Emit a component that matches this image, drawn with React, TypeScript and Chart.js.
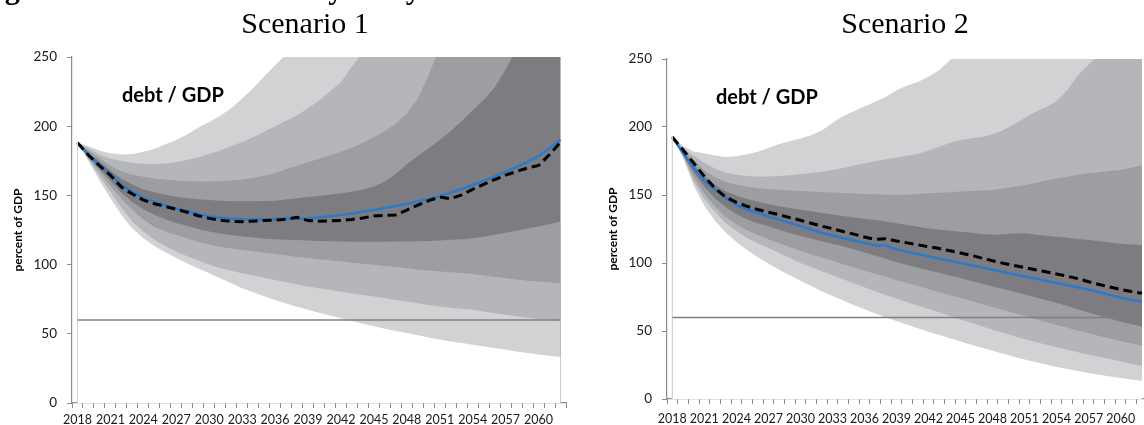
import React, { useEffect, useRef } from "react";
import { Chart, registerables } from "chart.js";

Chart.register(...registerables);

// ---------- data ----------
const YEARS = [
  "2018","2019","2020","2021","2022","2023","2024","2025","2026","2027",
  "2028","2029","2030","2031","2032","2033","2034","2035","2036","2037",
  "2038","2039","2040","2041","2042","2043","2044","2045","2046","2047",
  "2048","2049","2050","2051","2052","2053","2054","2055","2056","2057",
  "2058","2059","2060","2061","2062",
];
const TICK_YEARS = [
  "2018","2021","2024","2027","2030","2033","2036","2039","2042","2045",
  "2048","2051","2054","2057","2060",
];
const THRESHOLD = 60; // reference line (percent of GDP)

// Scenario 1
const S1_MEDIAN = [188, 179.5, 172, 165.5, 157.5, 152.5, 148, 145.3, 142.8, 140.6, 138.5, 136.5, 134.7, 133.8, 133.2, 132.8, 132.6, 132.5, 132.7, 132.9, 133.1, 133.4, 134, 134.9, 135.8, 136.9, 138.2, 139.4, 140.9, 142.3, 143.8, 145.7, 147.5, 149.5, 151.9, 154.6, 157.5, 160.4, 163.7, 167, 170.6, 174.3, 178.4, 184.1, 190.2];
const S1_DASHED = [188, 179, 171.5, 164.5, 156, 151, 146.6, 144, 142, 140, 137.8, 135.3, 133.4, 132.1, 131.3, 131, 131.4, 131.9, 132.2, 132.8, 134.2, 131.8, 131.4, 131.6, 131.8, 132.6, 133.7, 135.2, 135.5, 135.9, 139.4, 143, 146.2, 148.8, 147.6, 150.4, 154.4, 158, 161.4, 164.6, 167.3, 169.8, 171.6, 179.5, 188.6];
const S1_U4 = [188, 185.5, 182.5, 180.5, 179.5, 180, 181.5, 183.5, 187, 190, 194, 199, 203, 207.5, 213, 220, 227.5, 236, 244, 252, 259, 267, 275, 282, 290, 297, 306, 313, 321, 329, 336, 345, 352, 360, 369, 376, 384, 393, 400, 408, 417, 424, 432, 441, 448];
const S1_U3 = [188, 184, 179.5, 176.5, 175, 173.5, 172.8, 172.6, 173, 174, 175.5, 177.5, 180, 182.5, 185.5, 188.5, 192, 196, 200, 204, 208, 213, 218.5, 225, 232, 243, 254, 262, 269, 277, 284, 292, 301, 309, 318, 327, 335, 344, 352, 361, 369, 378, 387, 395, 404];
const S1_U2 = [188, 182.5, 177, 171.5, 167.3, 165, 163.5, 162.2, 161.3, 160.7, 160.3, 160.1, 160.1, 160.3, 160.8, 161.5, 162.6, 164.2, 166.2, 169, 171.5, 174, 176.5, 179, 181.5, 184.5, 188, 192, 196.5, 202, 209, 220, 237, 257, 271, 285, 299, 313, 327, 341, 355, 369, 383, 397, 411];
const S1_U1 = [188, 181, 174.5, 168, 162, 157.8, 154.5, 152.2, 150.5, 149, 148, 147.2, 146.6, 146.1, 145.8, 145.7, 145.7, 145.9, 146.2, 147, 148, 148.8, 149.6, 150.5, 151.5, 152.7, 154.2, 156.5, 160, 165.5, 172.5, 178.5, 184, 190, 196.5, 203.5, 211.5, 219, 228, 241, 256, 268, 281, 293, 306];
const S1_L1 = [188, 178, 169, 160.5, 152, 145, 140, 136, 132.7, 130, 127.8, 125.7, 123.9, 122.5, 121.3, 120.3, 119.5, 118.9, 118.4, 118, 117.7, 117.4, 117.1, 116.9, 116.7, 116.6, 116.5, 116.6, 116.6, 116.7, 116.7, 116.9, 117.1, 117.4, 117.9, 118.4, 119.1, 120.2, 121.5, 123, 124.5, 126, 127.5, 129.4, 131.2];
const S1_L2 = [188, 177, 167, 157, 147.5, 139.5, 132.5, 127.2, 124, 121.4, 118.9, 116.4, 114.3, 112.9, 111.6, 110.6, 109.7, 108.6, 107.7, 106.7, 105.5, 104.7, 103.8, 103.1, 102.2, 101.3, 100.7, 99.9, 99, 98.3, 97.4, 96.5, 95.8, 95.1, 94.4, 93.9, 93.2, 92.2, 91.2, 90.1, 89.3, 88.4, 87.8, 87.1, 86.6];
const S1_L3 = [188, 176, 164, 152.5, 141, 131, 124, 118, 113.5, 109.5, 106, 102.9, 99.9, 97.6, 95.6, 93.8, 92.1, 90.5, 88.9, 87.2, 85.7, 84.1, 82.9, 81.6, 80.4, 79.2, 78, 76.9, 75.8, 74.5, 73.3, 72.1, 70.8, 69.7, 68.9, 68.1, 67.3, 66.1, 64.9, 63.8, 62.6, 61.6, 60.7, 60.1, 59.6];
const S1_L4 = [188, 175, 161, 148, 136, 126, 119, 113.5, 109, 104.7, 100.8, 97.2, 93.8, 90.1, 86.5, 83, 80, 77.2, 74.5, 71.9, 69.6, 67.3, 65.2, 63.2, 61.3, 59.2, 57.2, 55.4, 53.7, 52.1, 50.5, 48.9, 47.3, 45.8, 44.5, 43.3, 42.1, 40.9, 39.7, 38.5, 37.3, 36.2, 35, 34.1, 33.3];

// Scenario 2
const S2_MEDIAN = [192.6, 181, 170, 160.5, 154, 148, 142.5, 139.3, 136.8, 134.3, 131.9, 129.5, 127.1, 124.6, 122.2, 120.2, 118.4, 116.6, 114.8, 113, 112.8, 110, 108.3, 106.6, 104.9, 103.2, 101.6, 100, 98.3, 96.7, 95.1, 93.4, 91.8, 90.2, 88.6, 87, 85.3, 83.7, 82.1, 80.4, 78.5, 76.5, 74.4, 72.8, 71.7];
const S2_DASHED = [192.6, 183.3, 173.5, 163.7, 154.8, 148.5, 144.6, 141.7, 139.3, 137.3, 135.5, 133.4, 131.4, 129.2, 127.1, 125.1, 123.2, 121.2, 119.1, 117.4, 117.9, 116.2, 114.8, 113.4, 112, 110.6, 109, 107.4, 105.6, 103.6, 101.6, 99.8, 98.2, 96.7, 95.1, 93.5, 91.9, 90.3, 88.5, 86.2, 84.2, 82.3, 80.6, 79, 77.8];
const S2_U4 = [192.6, 186, 182, 180.5, 179, 178, 178.5, 180, 181.8, 184.5, 187.5, 189.5, 191.5, 194, 197.5, 203, 208, 211.5, 215, 218.5, 222, 227, 230.5, 233, 237, 242, 249, 256, 263, 271, 278, 286, 293, 301, 308, 316, 323, 331, 338, 346, 353, 361, 368, 376, 383];
const S2_U3 = [192.6, 184.5, 179, 173.5, 169.5, 166.5, 164.8, 163.9, 163.5, 163.6, 164, 164.6, 165.3, 166.1, 167.1, 168.3, 169.8, 171.5, 173.4, 175, 176.3, 177.6, 178.8, 180.2, 182.6, 185.5, 188.3, 190.4, 191.8, 192.7, 194.6, 197.6, 202, 206.4, 211, 214.5, 219, 227, 238, 246, 253, 260, 266, 272, 279];
const S2_U2 = [192.6, 183.5, 175.5, 168, 163, 159.8, 157.6, 156.1, 155.1, 154.4, 153.8, 153.4, 153, 152.6, 152.2, 151.8, 151.4, 151.1, 150.8, 150.5, 150.3, 150.2, 150.4, 150.8, 151.2, 151.6, 152, 152.5, 152.9, 153.3, 153.7, 154.7, 156, 157.3, 158.9, 160.6, 162.2, 163.5, 164.8, 166, 166.8, 167.6, 168.4, 170, 172];
const S2_U1 = [192.6, 182, 172.5, 164, 157.5, 152.8, 149.6, 147, 145, 143.3, 141.8, 140.4, 139.2, 138, 136.8, 135.6, 134.5, 133.5, 132.6, 131.7, 130.6, 129.3, 128, 126.6, 125.4, 124.5, 123.7, 123, 122.2, 121.4, 120.7, 121.1, 121.6, 121.8, 121, 120.1, 119.3, 118.5, 117.7, 116.9, 116, 115, 114.1, 113.6, 113.2];
const S2_L1 = [192.6, 179.5, 166.5, 156, 147.5, 141, 136, 132, 129.3, 127, 124.5, 122, 119.8, 117.8, 116, 114.2, 112.3, 110.2, 107.8, 105.5, 103.2, 100.8, 98.6, 96.5, 94.6, 92.8, 90.9, 88.9, 86.8, 84.8, 82.8, 80.8, 78.8, 76.8, 74.8, 72.8, 70.7, 68.4, 66, 63.6, 61.3, 59, 57, 55, 53.3];
const S2_L2 = [192.6, 179, 163, 151, 141.5, 134, 128.5, 124, 120.5, 117.5, 114.5, 111.7, 109, 106.5, 104, 101.6, 99.1, 96.6, 94.3, 92.1, 89.8, 87.4, 85.2, 83, 80.8, 78.5, 76.4, 74.2, 72, 69.8, 67.5, 65.4, 63.2, 61, 58.8, 56.6, 54.5, 52.3, 50.2, 48.3, 46.4, 44.5, 42.6, 40.8, 39.2];
const S2_L3 = [192.6, 178, 160, 147, 137.5, 129.5, 123.5, 118.4, 114.5, 111, 107.3, 103.6, 100, 97, 94, 91, 88, 85.2, 82.2, 79.3, 76.5, 73.9, 71.2, 68.7, 66.1, 63.7, 61, 58.4, 56, 53.5, 51, 48.7, 46.3, 44.1, 42, 40, 38, 36.2, 34.4, 32.6, 31, 29.5, 27.5, 25.8, 24.5];
const S2_L4 = [192.6, 177.5, 157, 142, 131, 122.5, 115.5, 109.5, 104.3, 99.6, 95, 91, 87, 83, 79.2, 75.8, 72.4, 69.2, 66, 62.9, 60, 57.3, 54.6, 52, 49.5, 47, 44.6, 42.2, 39.9, 37.6, 35.4, 33.2, 31.1, 29.1, 27.2, 25.3, 23.6, 22, 20.5, 19.1, 17.8, 16.6, 15.4, 14.3, 13.4];

// ---------- styles ----------
const LIGHT = "#d1d2d4";
const MID1 = "#b5b6b9";
const MID2 = "#9d9ea2";
const DARK = "#7c7c81";
const BLUE = "#2b7bca";
const AXIS = "#8c8c8c";
const TEXT = "#1a1a1a";

type Panel = {
  u4: number[]; u3: number[]; u2: number[]; u1: number[];
  l1: number[]; l2: number[]; l3: number[]; l4: number[];
  median: number[]; dashed: number[];
  padTop: number; padRight: number; xAxisH: number; xPad: number;
};

const refLines = {
  id: "refLines",
  afterDatasetsDraw(chart: any) {
    const { ctx, scales } = chart;
    const x = scales.x;
    const y = scales.y;
    const ds = chart.data.datasets;
    const first = x.getPixelForValue(0);
    const last = x.getPixelForValue(YEARS.length - 1);
    ctx.save();
    // faint vertical line at the first year (below the fan)
    const lowStart = ds[7].data[0];
    ctx.strokeStyle = "#d6d6d6";
    ctx.lineWidth = 1.2;
    ctx.beginPath();
    ctx.moveTo(first, y.getPixelForValue(0));
    ctx.lineTo(first, y.getPixelForValue(lowStart));
    ctx.stroke();
    // 60% reference line
    const yy = y.getPixelForValue(THRESHOLD);
    ctx.strokeStyle = "#7f7f7f";
    ctx.lineWidth = 1.5;
    ctx.beginPath();
    ctx.moveTo(first, yy);
    ctx.lineTo(last, yy);
    ctx.stroke();
    ctx.restore();
  },
};

function buildConfig(p: Panel): any {
  const bands = [
    { d: p.u4, c: LIGHT },
    { d: p.u3, c: MID1 },
    { d: p.u2, c: MID2 },
    { d: p.u1, c: DARK },
    { d: p.l1, c: MID2 },
    { d: p.l2, c: MID1 },
    { d: p.l3, c: LIGHT },
    { d: p.l4, c: "#ffffff" },
  ];
  const datasets: any[] = bands.map((b, k) => ({
    type: "line",
    data: b.d,
    borderWidth: 0,
    borderColor: "rgba(0,0,0,0)",
    backgroundColor: b.c,
    fill: "start",
    pointRadius: 0,
    tension: 0,
    order: 20 - k,
  }));
  datasets.push({
    type: "line",
    data: p.median,
    borderColor: BLUE,
    borderWidth: 2.5,
    fill: false,
    pointRadius: 0,
    tension: 0,
    order: 1,
  });
  datasets.push({
    type: "line",
    data: p.dashed,
    borderColor: "#000000",
    borderWidth: 3,
    borderDash: [9, 5],
    fill: false,
    pointRadius: 0,
    tension: 0,
    order: 0,
  });
  return {
    type: "line",
    data: { labels: YEARS, datasets },
    plugins: [refLines],
    options: {
      animation: false,
      responsive: false,
      maintainAspectRatio: false,
      events: [],
      layout: { padding: { top: p.padTop, right: p.padRight, left: 0, bottom: 0 } },
      plugins: {
        legend: { display: false },
        tooltip: { enabled: false },
        title: { display: false },
        filler: { propagate: false },
      },
      scales: {
        x: {
          type: "category",
          offset: true,
          grid: {
            display: true,
            drawOnChartArea: false,
            drawTicks: true,
            tickLength: 5,
            offset: true,
            color: AXIS,
            tickColor: AXIS,
            lineWidth: 1,
          },
          border: { display: true, color: AXIS, width: 1.2 },
          ticks: {
            autoSkip: false,
            maxRotation: 0,
            minRotation: 0,
            padding: p.xPad,
            color: TEXT,
            font: { family: "Lato", size: 12.5 },
            callback: (_v: any, i: number) =>
              TICK_YEARS.includes(YEARS[i]) ? YEARS[i] : "",
          },
          afterFit: (s: any) => {
            s.height = p.xAxisH;
          },
        },
        y: {
          min: 0,
          max: 250,
          grid: {
            display: true,
            drawOnChartArea: false,
            drawTicks: true,
            tickLength: 5,
            color: AXIS,
            tickColor: AXIS,
          },
          border: { display: true, color: AXIS, width: 1.2 },
          ticks: {
            stepSize: 50,
            padding: 10,
            color: TEXT,
            font: { family: "Lato", size: 13.5 },
          },
          title: {
            display: true,
            text: "percent of GDP",
            color: "#000000",
            font: { family: "Lato", size: 12, weight: "bold" },
            padding: { top: 11, bottom: 0 },
          },
          afterFit: (s: any) => {
            s.width = 72;
          },
        },
      },
    },
  };
}

function FanChart({ panel, left, width }: { panel: Panel; left: number; width: number }) {
  const ref = useRef<HTMLCanvasElement | null>(null);
  useEffect(() => {
    if (!ref.current) return;
    const chart = new Chart(ref.current, buildConfig(panel));
    return () => chart.destroy();
  }, []);
  return (
    <canvas
      ref={ref}
      width={width}
      height={425}
      style={{ position: "absolute", left, top: 0, width, height: 425 }}
    />
  );
}

const PANEL1: Panel = {
  u4: S1_U4, u3: S1_U3, u2: S1_U2, u1: S1_U1,
  l1: S1_L1, l2: S1_L2, l3: S1_L3, l4: S1_L4,
  median: S1_MEDIAN, dashed: S1_DASHED,
  padTop: 57, padRight: 9, xAxisH: 22, xPad: 4,
};
const PANEL2: Panel = {
  u4: S2_U4, u3: S2_U3, u2: S2_U2, u1: S2_U1,
  l1: S2_L1, l2: S2_L2, l3: S2_L3, l4: S2_L4,
  median: S2_MEDIAN, dashed: S2_DASHED,
  padTop: 59, padRight: 0, xAxisH: 26, xPad: 7,
};

const serif = '"Liberation Serif", "Times New Roman", serif';
const sans = 'Lato, "Open Sans", sans-serif';

export default function App() {
  return (
    <div
      style={{
        position: "fixed",
        left: 0,
        top: 0,
        width: 1144,
        height: 425,
        overflow: "hidden",
        background: "#ffffff",
      }}
    >
      <FanChart panel={PANEL1} left={0} width={575} />
      <FanChart panel={PANEL2} left={595} width={554} />
      <div
        style={{
          position: "absolute", left: -22, top: -26, whiteSpace: "nowrap",
          fontFamily: serif, fontWeight: "bold", fontSize: 30, lineHeight: "30px", color: "#000",
        }}
      >
        Figure 3: Debt sustainability analysis
      </div>
      <div
        style={{
          position: "absolute", left: 205, top: 8, width: 200, textAlign: "center",
          fontFamily: serif, fontSize: 30, lineHeight: "30px", color: "#000",
        }}
      >
        Scenario 1
      </div>
      <div
        style={{
          position: "absolute", left: 805, top: 8, width: 200, textAlign: "center",
          fontFamily: serif, fontSize: 30, lineHeight: "30px", color: "#000",
        }}
      >
        Scenario 2
      </div>
      <div
        style={{
          position: "absolute", left: 122, top: 84, whiteSpace: "nowrap",
          fontFamily: sans, fontWeight: "bold", fontSize: 20, lineHeight: "20px", color: "#000",
        }}
      >
        debt / GDP
      </div>
      <div
        style={{
          position: "absolute", left: 716, top: 86, whiteSpace: "nowrap",
          fontFamily: sans, fontWeight: "bold", fontSize: 20, lineHeight: "20px", color: "#000",
        }}
      >
        debt / GDP
      </div>
    </div>
  );
}
